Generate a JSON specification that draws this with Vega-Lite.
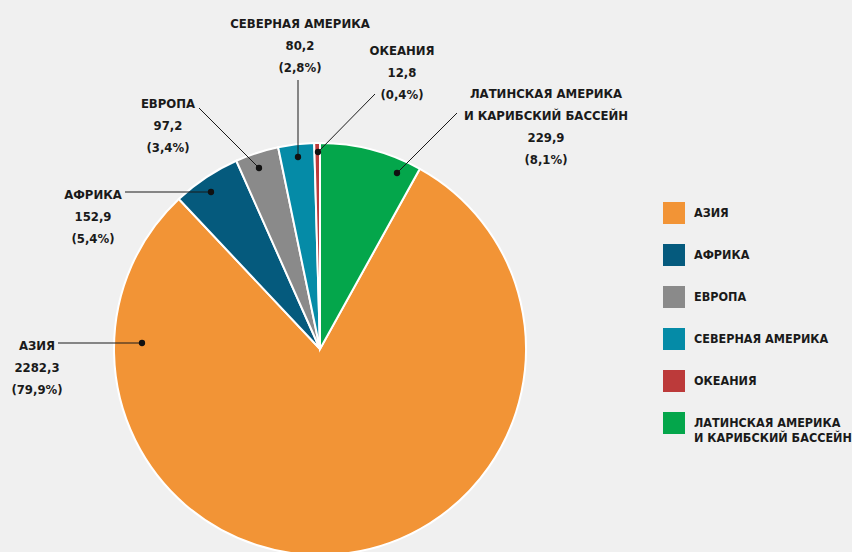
{
  "$schema": "https://vega.github.io/schema/vega-lite/v6.json",
  "width": 640,
  "height": 698,
  "autosize": {"type": "none"},
  "padding": {"left": 0, "top": 0, "right": 212, "bottom": -146},
  "background": "#F0F0F0",
  "config": {
    "view": {"stroke": null},
    "font": "DejaVu Sans Condensed, Roboto, sans-serif"
  },
  "datasets": {
    "regions": [
      {"region": "АЗИЯ", "value": 2282.3, "ord": 2},
      {"region": "АФРИКА", "value": 152.9, "ord": 3},
      {"region": "ЕВРОПА", "value": 97.2, "ord": 4},
      {"region": "СЕВЕРНАЯ АМЕРИКА", "value": 80.2, "ord": 5},
      {"region": "ОКЕАНИЯ", "value": 12.8, "ord": 6},
      {"region": "ЛАТИНСКАЯ АМЕРИКА И КАРИБСКИЙ БАССЕЙН", "value": 229.9, "ord": 1}
    ],
    "callouts": [
      {"region": "АЗИЯ", "tx": 37, "ty": 350, "px": 142, "py": 343, "ex": 58, "ey": 343},
      {"region": "АФРИКА", "tx": 93, "ty": 199, "px": 211, "py": 192, "ex": 125, "ey": 192},
      {"region": "ЕВРОПА", "tx": 168, "ty": 108, "px": 259, "py": 168, "ex": 199, "ey": 108},
      {"region": "СЕВЕРНАЯ АМЕРИКА", "tx": 300, "ty": 28, "px": 298, "py": 157, "ex": 298, "ey": 80},
      {"region": "ОКЕАНИЯ", "tx": 402, "ty": 55, "px": 318, "py": 152, "ex": 375, "ey": 94},
      {"region": "ЛАТИНСКАЯ АМЕРИКА И КАРИБСКИЙ БАССЕЙН", "tx": 546, "ty": 98, "px": 397, "py": 173, "ex": 457, "ey": 113}
    ]
  },
  "layer": [
    {
      "data": {"name": "regions"},
      "mark": {"type": "arc", "outerRadius": 206, "stroke": "white", "strokeWidth": 2},
      "encoding": {
        "theta": {"field": "value", "type": "quantitative", "stack": true},
        "order": {"field": "ord", "type": "quantitative", "sort": "ascending"},
        "color": {
          "field": "region",
          "type": "nominal",
          "scale": {
            "domain": ["АЗИЯ", "АФРИКА", "ЕВРОПА", "СЕВЕРНАЯ АМЕРИКА", "ОКЕАНИЯ", "ЛАТИНСКАЯ АМЕРИКА И КАРИБСКИЙ БАССЕЙН"],
            "range": ["#F29436", "#055A7D", "#8A8A8A", "#058BA7", "#BC3A3A", "#04A64B"]
          },
          "legend": {
            "orient": "none",
            "legendX": 663,
            "legendY": 202,
            "title": null,
            "symbolType": "square",
            "symbolSize": 484,
            "symbolStrokeWidth": 0,
            "symbolOpacity": 1,
            "labelFont": "DejaVu Sans Condensed, Roboto, sans-serif",
            "labelFontSize": 12.5,
            "labelFontWeight": "bold",
            "labelColor": "#1a1a1a",
            "labelOffset": 9,
            "labelLimit": 300,
            "rowPadding": 20,
            "padding": 0,
            "labelExpr": "split(replace(datum.label, ' И ', '|И '), '|')",
            "encode": {
              "labels": {
                "enter": {"lineHeight": {"value": 21}},
                "update": {"lineHeight": {"value": 21}}
              }
            }
          }
        }
      }
    },
    {
      "data": {"name": "callouts"},
      "mark": {"type": "rule", "color": "#1a1a1a", "strokeWidth": 1},
      "encoding": {
        "x": {"field": "ex", "type": "quantitative", "scale": {"domain": [0, 640], "nice": false}, "axis": null},
        "y": {"field": "ey", "type": "quantitative", "scale": {"domain": [0, 698], "nice": false, "reverse": true}, "axis": null},
        "x2": {"field": "px"},
        "y2": {"field": "py"}
      }
    },
    {
      "data": {"name": "callouts"},
      "mark": {"type": "circle", "size": 40, "color": "#111111", "opacity": 1},
      "encoding": {
        "x": {"field": "px", "type": "quantitative", "scale": {"domain": [0, 640], "nice": false}, "axis": null},
        "y": {"field": "py", "type": "quantitative", "scale": {"domain": [0, 698], "nice": false, "reverse": true}, "axis": null}
      }
    },
    {
      "data": {"name": "regions"},
      "transform": [
        {"joinaggregate": [{"op": "sum", "field": "value", "as": "total"}]},
        {"calculate": "replace(datum.region, ' И ', '|И  ') + '|' + replace(format(datum.value, '.1f'), '.', ',') + '|(' + replace(format(datum.value / datum.total, '.1%'), '.', ',') + ')'", "as": "label"},
        {"lookup": "region", "from": {"data": {"name": "callouts"}, "key": "region", "fields": ["tx", "ty"]}}
      ],
      "mark": {"type": "text", "font": "DejaVu Sans Condensed, Roboto, sans-serif", "fontSize": 13, "fontWeight": "bold", "color": "#1a1a1a", "align": "center", "baseline": "alphabetic", "lineBreak": "|", "lineHeight": 22},
      "encoding": {
        "x": {"field": "tx", "type": "quantitative", "scale": {"domain": [0, 640], "nice": false}, "axis": null},
        "y": {"field": "ty", "type": "quantitative", "scale": {"domain": [0, 698], "nice": false, "reverse": true}, "axis": null},
        "text": {"field": "label", "type": "nominal"}
      }
    }
  ]
}
